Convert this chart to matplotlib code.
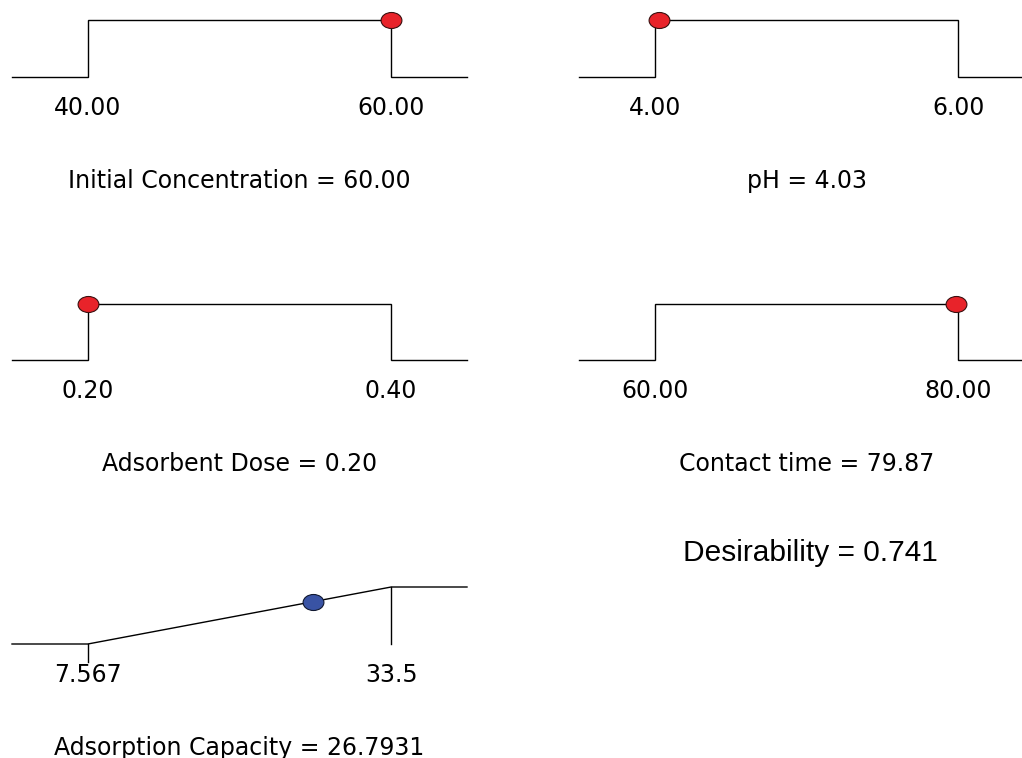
import numpy as np
import matplotlib
matplotlib.use('Agg')
import matplotlib.pyplot as plt
from matplotlib.path import Path
from matplotlib.transforms import Affine2D

# Fatores (desirability ramps)
factor_names = ['Initial Concentration', 'pH', 'Adsorbent Dose', 'Contact time']
factor_low = [40.0, 4.0, 0.20, 60.0]
factor_high = [60.0, 6.0, 0.40, 80.0]
factor_value = [60.00, 4.03, 0.20, 79.87]
factor_low_labels = ['40.00', '4.00', '0.20', '60.00']
factor_high_labels = ['60.00', '6.00', '0.40', '80.00']
factor_value_labels = ['60.00', '4.03', '0.20', '79.87']

# Resposta (maximizar)
resp_name = 'Adsorption Capacity'
resp_low = 7.567
resp_high = 33.5
resp_value = 26.7931
resp_low_label = '7.567'
resp_high_label = '33.5'
resp_value_label = '26.7931'

desirability = 0.741

W, H = 1022, 758
fig = plt.figure(figsize=(W / 100, H / 100), dpi=100)
fig.patch.set_facecolor('white')

# marcador eliptico
ellipse = Path.unit_circle().transformed(Affine2D().scale(1.3, 1.0))

FONT = 'DejaVu Sans'
FS = 17
PT = 0.72  # pontos por pixel (dpi 100)

# posicoes dos paineis em pixels: (esquerda, topo, base)
col_x = [12, 579]
row_y = [(20, 77), (304, 360), (587, 644)]
panel_w = 455


def make_ax(col, row):
    x0 = col_x[col]
    top, bot = row_y[row]
    ax = fig.add_axes([x0 / W, 1 - bot / H, panel_w / W, (bot - top) / H])
    ax.set_ylim(0, 1)
    ax.axis('off')
    return ax


def finish(ax, lo, hi, lo_lab, hi_lab, title):
    ax.annotate(lo_lab, (lo, 0), xytext=(0, -31 * PT), textcoords='offset points',
                ha='center', va='center', fontsize=FS, family=FONT, annotation_clip=False)
    ax.annotate(hi_lab, (hi, 0), xytext=(0, -31 * PT), textcoords='offset points',
                ha='center', va='center', fontsize=FS, family=FONT, annotation_clip=False)
    ax.annotate(title, ((lo + hi) / 2, 0), xytext=(0, -104 * PT), textcoords='offset points',
                ha='center', va='center', fontsize=FS, family=FONT, annotation_clip=False)


for i, name in enumerate(factor_names):
    ax = make_ax(i % 2, i // 2)
    lo, hi = factor_low[i], factor_high[i]
    r = hi - lo
    left, right = lo - 0.25 * r, hi + 0.25 * r
    ax.set_xlim(left, right)
    xs = [left, lo, lo, hi, hi, right]
    ys = [0, 0, 1, 1, 0, 0]
    ax.plot(xs, ys, color='black', lw=1.0, clip_on=False, solid_joinstyle='miter')
    ax.plot([factor_value[i]], [1], marker=ellipse, ms=15, mfc='#E8232A', mec='#3a1010',
            mew=0.8, ls='none', clip_on=False, zorder=5)
    finish(ax, lo, hi, factor_low_labels[i], factor_high_labels[i],
           f'{name} = {factor_value_labels[i]}')

# painel da resposta
ax = make_ax(0, 2)
r = resp_high - resp_low
left, right = resp_low - 0.25 * r, resp_high + 0.25 * r
ax.set_xlim(left, right)
ax.plot([left, resp_low, resp_high, right], [0, 0, 1, 1], color='black', lw=1.0, clip_on=False)
ax.plot([resp_low, resp_low], [0, -0.32], color='black', lw=1.0, clip_on=False)
ax.plot([resp_high, resp_high], [1, 0], color='black', lw=1.0, clip_on=False)
d_resp = (resp_value - resp_low) / (resp_high - resp_low)
ax.plot([resp_value], [d_resp], marker=ellipse, ms=15, mfc='#3953A4', mec='#101830',
        mew=0.8, ls='none', clip_on=False, zorder=5)
finish(ax, resp_low, resp_high, resp_low_label, resp_high_label,
       f'{resp_name} = {resp_value_label}')

fig.text(810 / W, 1 - 561 / H, f'Desirability = {desirability:.3f}', ha='center', va='baseline',
         fontsize=21.5, family=['Liberation Sans', 'DejaVu Sans'])

fig.savefig('out.png', dpi=100, facecolor='white')
